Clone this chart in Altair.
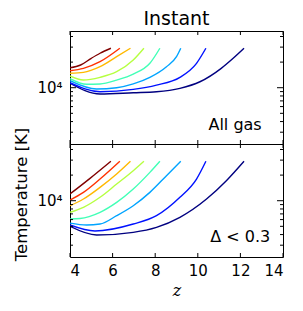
import altair as alt
import pandas as pd

# ---------------- data ----------------
SERIES = ["s1", "s2", "s3", "s4", "s5", "s6", "s7", "s8"]  # navy -> dark red
COLORS = ["#000080", "#0012ff", "#00a4ff", "#41ffb6", "#b6ff41", "#ffb900", "#ff3200", "#800000"]

# Top panel: "All gas"
top_s1_z = [4.0, 5.41, 6.97, 8.06, 9.16, 10.1, 11.1, 11.66, 12.17]
top_s1_T = [11270, 8430, 8730, 8970, 9840, 11750, 16900, 22180, 29100]
top_s2_z = [4.0, 5.41, 6.97, 8.06, 9.16, 9.94, 10.38]
top_s2_T = [11450, 8970, 9550, 10720, 13240, 19360, 29100]
top_s3_z = [4.0, 5.25, 6.19, 6.97, 7.75, 8.53, 9.0, 9.2]
top_s3_T = [12080, 9660, 10000, 11100, 13240, 17660, 23170, 29100]
top_s4_z = [4.0, 4.78, 5.41, 6.19, 6.97, 7.75, 8.22]
top_s4_T = [12760, 10960, 11070, 12300, 14450, 19360, 29100]
top_s5_z = [4.0, 4.63, 5.41, 6.19, 6.97, 7.47]
top_s5_T = [13740, 12300, 13240, 15420, 21180, 29100]
top_s6_z = [4.0, 4.63, 5.41, 6.19, 6.84]
top_s6_T = [14760, 15140, 17660, 23170, 29100]
top_s7_z = [4.0, 4.63, 5.41, 6.34]
top_s7_T = [15850, 16900, 20230, 29100]
top_s8_z = [4.0, 4.5, 5.0, 5.41, 5.92]
top_s8_T = [17180, 18490, 22180, 25410, 29100]

# Bottom panel: "Delta < 0.3"
bot_s1_z = [4.0, 5.25, 6.97, 8.06, 9.16, 10.41, 11.34, 12.17]
bot_s1_T = [5000, 3950, 4250, 4860, 6380, 10470, 17180, 29100]
bot_s2_z = [4.0, 5.17, 6.97, 8.06, 9.16, 9.94, 10.38]
bot_s2_T = [5180, 4400, 5320, 6670, 10970, 17990, 29100]
bot_s3_z = [4.0, 4.78, 5.41, 6.19, 6.97, 7.75, 8.53, 9.2]
bot_s3_T = [5460, 5180, 5320, 6670, 8730, 12530, 19680, 29100]
bot_s4_z = [4.0, 4.47, 5.41, 6.19, 6.97, 7.75, 8.22]
bot_s4_T = [6100, 6170, 7300, 9550, 13710, 21530, 29100]
bot_s5_z = [4.0, 4.63, 5.41, 6.19, 6.97, 7.47]
bot_s5_T = [7300, 8360, 10970, 15700, 22540, 29100]
bot_s6_z = [4.0, 4.63, 5.41, 6.19, 6.84]
bot_s6_T = [8730, 10470, 14360, 20610, 29100]
bot_s7_z = [4.0, 4.63, 5.41, 6.34]
bot_s7_T = [10190, 12530, 17990, 29100]
bot_s8_z = [4.0, 4.94, 5.92]
bot_s8_T = [12000, 18320, 29100]

X_TICKS = [4, 6, 8, 10, 12, 14]
Y_MAJOR = [10000]
Y_MINOR = [3000, 4000, 5000, 6000, 7000, 8000, 9000, 20000, 30000, 40000]

TOP_LABEL = ["All gas"]
TOP_LABEL_Z = [13.0]
TOP_LABEL_T = [3640]
BOT_LABEL = ["Δ < 0.3"]
BOT_LABEL_Z = [13.4]
BOT_LABEL_T = [3740]

X_DOMAIN = [4, 14]
Y_DOMAIN = [2180, 46400]

# ---------------- build ----------------
W, H = 213, 113
FONT = "DejaVu Sans"


def long_df(pairs):
    rows = []
    for name, zs, ts in pairs:
        for i, (z, t) in enumerate(zip(zs, ts)):
            rows.append({"series": name, "z": z, "T": t, "i": i})
    return pd.DataFrame(rows)


top_df = long_df([
    ("s1", top_s1_z, top_s1_T), ("s2", top_s2_z, top_s2_T), ("s3", top_s3_z, top_s3_T),
    ("s4", top_s4_z, top_s4_T), ("s5", top_s5_z, top_s5_T), ("s6", top_s6_z, top_s6_T),
    ("s7", top_s7_z, top_s7_T), ("s8", top_s8_z, top_s8_T),
])
bot_df = long_df([
    ("s1", bot_s1_z, bot_s1_T), ("s2", bot_s2_z, bot_s2_T), ("s3", bot_s3_z, bot_s3_T),
    ("s4", bot_s4_z, bot_s4_T), ("s5", bot_s5_z, bot_s5_T), ("s6", bot_s6_z, bot_s6_T),
    ("s7", bot_s7_z, bot_s7_T), ("s8", bot_s8_z, bot_s8_T),
])

xscale = alt.Scale(domain=X_DOMAIN, nice=False, zero=False)
yscale = alt.Scale(type="log", domain=Y_DOMAIN, nice=False)


def panel(df, lab, labz, labt, bottom):
    if bottom:
        yaxis = alt.Axis(values=Y_MAJOR, labelExpr="'10⁴'", ticks=False, domain=False, grid=False,
                         labelFontSize=15, labelFont=FONT, labelPadding=8,
                         title="Temperature [K]", titleFont=FONT, titleFontSize=16.5,
                         titleFontWeight="normal", titlePadding=7, titleY=50)

        def X():
            return alt.X("z:Q", scale=xscale, axis=alt.Axis(
                values=X_TICKS, ticks=False, domain=False, grid=False,
                labelFontSize=15, labelFont=FONT, labelPadding=6,
                title="z", titleFont="DejaVu Serif", titleFontStyle="italic",
                titleFontWeight="normal", titleFontSize=16, titlePadding=4))
    else:
        yaxis = alt.Axis(values=Y_MAJOR, labelExpr="'10⁴'", ticks=False, domain=False, grid=False,
                         labelFontSize=15, labelFont=FONT, labelPadding=8, title=None)

        def X():
            return alt.X("z:Q", scale=xscale, axis=None)

    def Y():
        return alt.Y("T:Q", scale=yscale, axis=yaxis)

    lines = alt.Chart(df).mark_line(strokeWidth=1.4, clip=True, interpolate="monotone").encode(
        x=X(),
        y=Y(),
        color=alt.Color("series:N", scale=alt.Scale(domain=SERIES, range=COLORS), legend=None),
        order="i:Q",
    )

    xt = pd.DataFrame({"z": X_TICKS})
    xtick_b = alt.Chart(xt).mark_rule(color="black", strokeWidth=1).encode(
        x=X(), y=alt.value(H), y2=alt.value(H - 4))
    xtick_t = alt.Chart(xt).mark_rule(color="black", strokeWidth=1).encode(
        x=X(), y=alt.value(0), y2=alt.value(4))

    ymaj = pd.DataFrame({"T": Y_MAJOR})
    ymin = pd.DataFrame({"T": Y_MINOR})
    layers = [lines, xtick_b, xtick_t]
    for d, ln in ((ymaj, 6), (ymin, 3)):
        layers.append(alt.Chart(d).mark_rule(color="black", strokeWidth=1).encode(
            y=Y(), x=alt.value(0), x2=alt.value(ln)))
        layers.append(alt.Chart(d).mark_rule(color="black", strokeWidth=1).encode(
            y=Y(), x=alt.value(W), x2=alt.value(W - ln)))

    tdf = pd.DataFrame({"z": labz, "T": labt, "text": lab})
    layers.append(alt.Chart(tdf).mark_text(align="right", baseline="middle", fontSize=16,
                                           font=FONT, color="black").encode(
        x=X(), y=Y(), text="text:N"))

    return alt.layer(*layers).properties(width=W, height=H)


top = panel(top_df, TOP_LABEL, TOP_LABEL_Z, TOP_LABEL_T, False).properties(
    title=alt.TitleParams("Instant", fontSize=19, font=FONT, fontWeight="normal",
                          anchor="middle", frame="group", offset=2, color="black"))
bottom = panel(bot_df, BOT_LABEL, BOT_LABEL_Z, BOT_LABEL_T, True)

chart = alt.vconcat(top, bottom, spacing=0, bounds="flush").configure_view(
    stroke="black", strokeWidth=1
).configure_axis(labelColor="black", titleColor="black").properties(
    padding={"left": 5, "top": 1, "right": 5, "bottom": 2})

chart.save("out.html", embed_options={"renderer": "svg", "actions": False})
